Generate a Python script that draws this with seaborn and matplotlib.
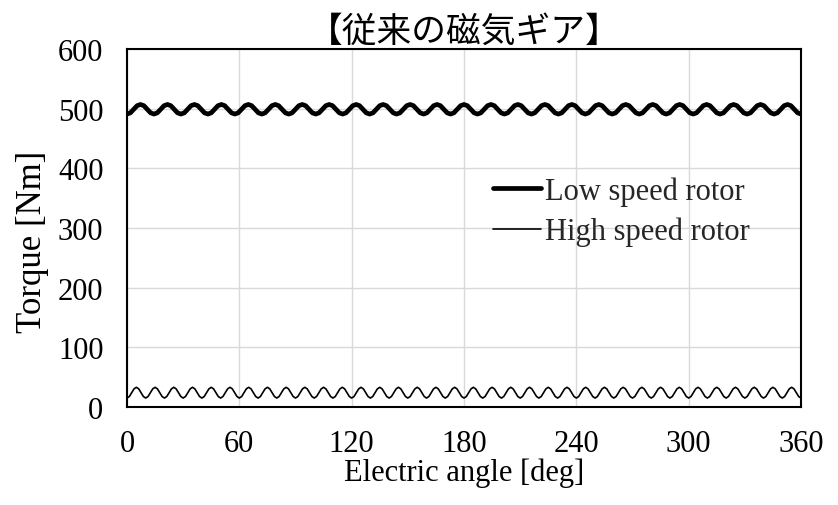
import numpy as np
import pandas as pd
import matplotlib
matplotlib.use("Agg")
import matplotlib.pyplot as plt
import seaborn as sns
from matplotlib.lines import Line2D

# ---- data ----
title = "【従来の磁気ギア】"
x_label = "Electric angle [deg]"
y_label = "Torque [Nm]"
series_names = ["Low speed rotor", "High speed rotor"]
x_ticks = [0, 60, 120, 180, 240, 300, 360]
y_ticks = [0, 100, 200, 300, 400, 500, 600]

# Low speed rotor torque, sampled every 1.8 deg from 0 to 360
low_speed = [
    491, 493, 499, 505, 507, 505, 499, 493,
    491, 493, 499, 505, 507, 505, 499, 493,
    491, 493, 499, 505, 507, 505, 499, 493,
    491, 493, 499, 505, 507, 505, 499, 493,
    491, 493, 499, 505, 507, 505, 499, 493,
    491, 493, 499, 505, 507, 505, 499, 493,
    491, 493, 499, 505, 507, 505, 499, 493,
    491, 493, 499, 505, 507, 505, 499, 493,
    491, 493, 499, 505, 507, 505, 499, 493,
    491, 493, 499, 505, 507, 505, 499, 493,
    491, 493, 499, 505, 507, 505, 499, 493,
    491, 493, 499, 505, 507, 505, 499, 493,
    491, 493, 499, 505, 507, 505, 499, 493,
    491, 493, 499, 505, 507, 505, 499, 493,
    491, 493, 499, 505, 507, 505, 499, 493,
    491, 493, 499, 505, 507, 505, 499, 493,
    491, 493, 499, 505, 507, 505, 499, 493,
    491, 493, 499, 505, 507, 505, 499, 493,
    491, 493, 499, 505, 507, 505, 499, 493,
    491, 493, 499, 505, 507, 505, 499, 493,
    491, 493, 499, 505, 507, 505, 499, 493,
    491, 493, 499, 505, 507, 505, 499, 493,
    491, 493, 499, 505, 507, 505, 499, 493,
    491, 493, 499, 505, 507, 505, 499, 493,
    491, 493, 499, 505, 507, 505, 499, 493,
    491,
]

# High speed rotor torque, sampled every 1.25 deg from 0 to 360
high_speed = [
    15, 17.6, 24, 30.4, 33, 30.4, 24, 17.6,
    15, 17.6, 24, 30.4, 33, 30.4, 24, 17.6,
    15, 17.6, 24, 30.4, 33, 30.4, 24, 17.6,
    15, 17.6, 24, 30.4, 33, 30.4, 24, 17.6,
    15, 17.6, 24, 30.4, 33, 30.4, 24, 17.6,
    15, 17.6, 24, 30.4, 33, 30.4, 24, 17.6,
    15, 17.6, 24, 30.4, 33, 30.4, 24, 17.6,
    15, 17.6, 24, 30.4, 33, 30.4, 24, 17.6,
    15, 17.6, 24, 30.4, 33, 30.4, 24, 17.6,
    15, 17.6, 24, 30.4, 33, 30.4, 24, 17.6,
    15, 17.6, 24, 30.4, 33, 30.4, 24, 17.6,
    15, 17.6, 24, 30.4, 33, 30.4, 24, 17.6,
    15, 17.6, 24, 30.4, 33, 30.4, 24, 17.6,
    15, 17.6, 24, 30.4, 33, 30.4, 24, 17.6,
    15, 17.6, 24, 30.4, 33, 30.4, 24, 17.6,
    15, 17.6, 24, 30.4, 33, 30.4, 24, 17.6,
    15, 17.6, 24, 30.4, 33, 30.4, 24, 17.6,
    15, 17.6, 24, 30.4, 33, 30.4, 24, 17.6,
    15, 17.6, 24, 30.4, 33, 30.4, 24, 17.6,
    15, 17.6, 24, 30.4, 33, 30.4, 24, 17.6,
    15, 17.6, 24, 30.4, 33, 30.4, 24, 17.6,
    15, 17.6, 24, 30.4, 33, 30.4, 24, 17.6,
    15, 17.6, 24, 30.4, 33, 30.4, 24, 17.6,
    15, 17.6, 24, 30.4, 33, 30.4, 24, 17.6,
    15, 17.6, 24, 30.4, 33, 30.4, 24, 17.6,
    15, 17.6, 24, 30.4, 33, 30.4, 24, 17.6,
    15, 17.6, 24, 30.4, 33, 30.4, 24, 17.6,
    15, 17.6, 24, 30.4, 33, 30.4, 24, 17.6,
    15, 17.6, 24, 30.4, 33, 30.4, 24, 17.6,
    15, 17.6, 24, 30.4, 33, 30.4, 24, 17.6,
    15, 17.6, 24, 30.4, 33, 30.4, 24, 17.6,
    15, 17.6, 24, 30.4, 33, 30.4, 24, 17.6,
    15, 17.6, 24, 30.4, 33, 30.4, 24, 17.6,
    15, 17.6, 24, 30.4, 33, 30.4, 24, 17.6,
    15, 17.6, 24, 30.4, 33, 30.4, 24, 17.6,
    15, 17.6, 24, 30.4, 33, 30.4, 24, 17.6,
    15,
]

low_angle = np.linspace(0, 360, len(low_speed))
high_angle = np.linspace(0, 360, len(high_speed))

df = pd.concat([
    pd.DataFrame({"angle": low_angle, "torque": low_speed, "series": series_names[0]}),
    pd.DataFrame({"angle": high_angle, "torque": high_speed, "series": series_names[1]}),
], ignore_index=True)

# ---- style ----
sns.set_theme(style="whitegrid")
plt.rcParams["font.family"] = ["Liberation Serif", "DejaVu Serif"]

fig = plt.figure(figsize=(8.38, 5.06), dpi=100)
ax = fig.add_axes([127 / 838, 1 - 408 / 506, 674 / 838, 358 / 506])

sns.lineplot(
    data=df, x="angle", y="torque", hue="series", size="series",
    sizes={series_names[0]: 3.4, series_names[1]: 1.2},
    palette={series_names[0]: "black", series_names[1]: "black"},
    ax=ax, legend=False, estimator=None, sort=False,
)

ax.set_xlim(0, 360)
ax.set_ylim(0, 600)
ax.set_xticks(x_ticks)
ax.set_yticks(y_ticks)
ax.grid(True, color="#d9d9d9", linewidth=1.0)
for s in ax.spines.values():
    s.set_color("black")
    s.set_linewidth(1.5)
ax.tick_params(axis="both", direction="in", length=6, width=1.2, color="black",
               labelsize=22, labelcolor="black")
ax.tick_params(axis="y", pad=17)
ax.tick_params(axis="x", pad=16)

ax.set_xlabel(x_label, fontsize=22, color="black")
ax.set_ylabel(y_label, fontsize=25, color="black")
ax.xaxis.set_label_coords(0.5, -(459 - 408) / 358)
ax.yaxis.set_label_coords(-(127 - 49) / 674, 0.464)
ax.set_title(title, fontsize=25, family=["Noto Sans CJK JP", "DejaVu Sans"],
             color="black", pad=6)

handles = [Line2D([], [], color="black", linewidth=3.4),
           Line2D([], [], color="black", linewidth=1.2)]
ax.legend(handles, series_names, loc="upper left", bbox_to_anchor=(0.543, 0.645),
          frameon=False, fontsize=22, handlelength=1.57, handletextpad=0.13,
          labelspacing=0.37, borderpad=0, borderaxespad=0)

fig.savefig("out.png", dpi=100, facecolor="white")
